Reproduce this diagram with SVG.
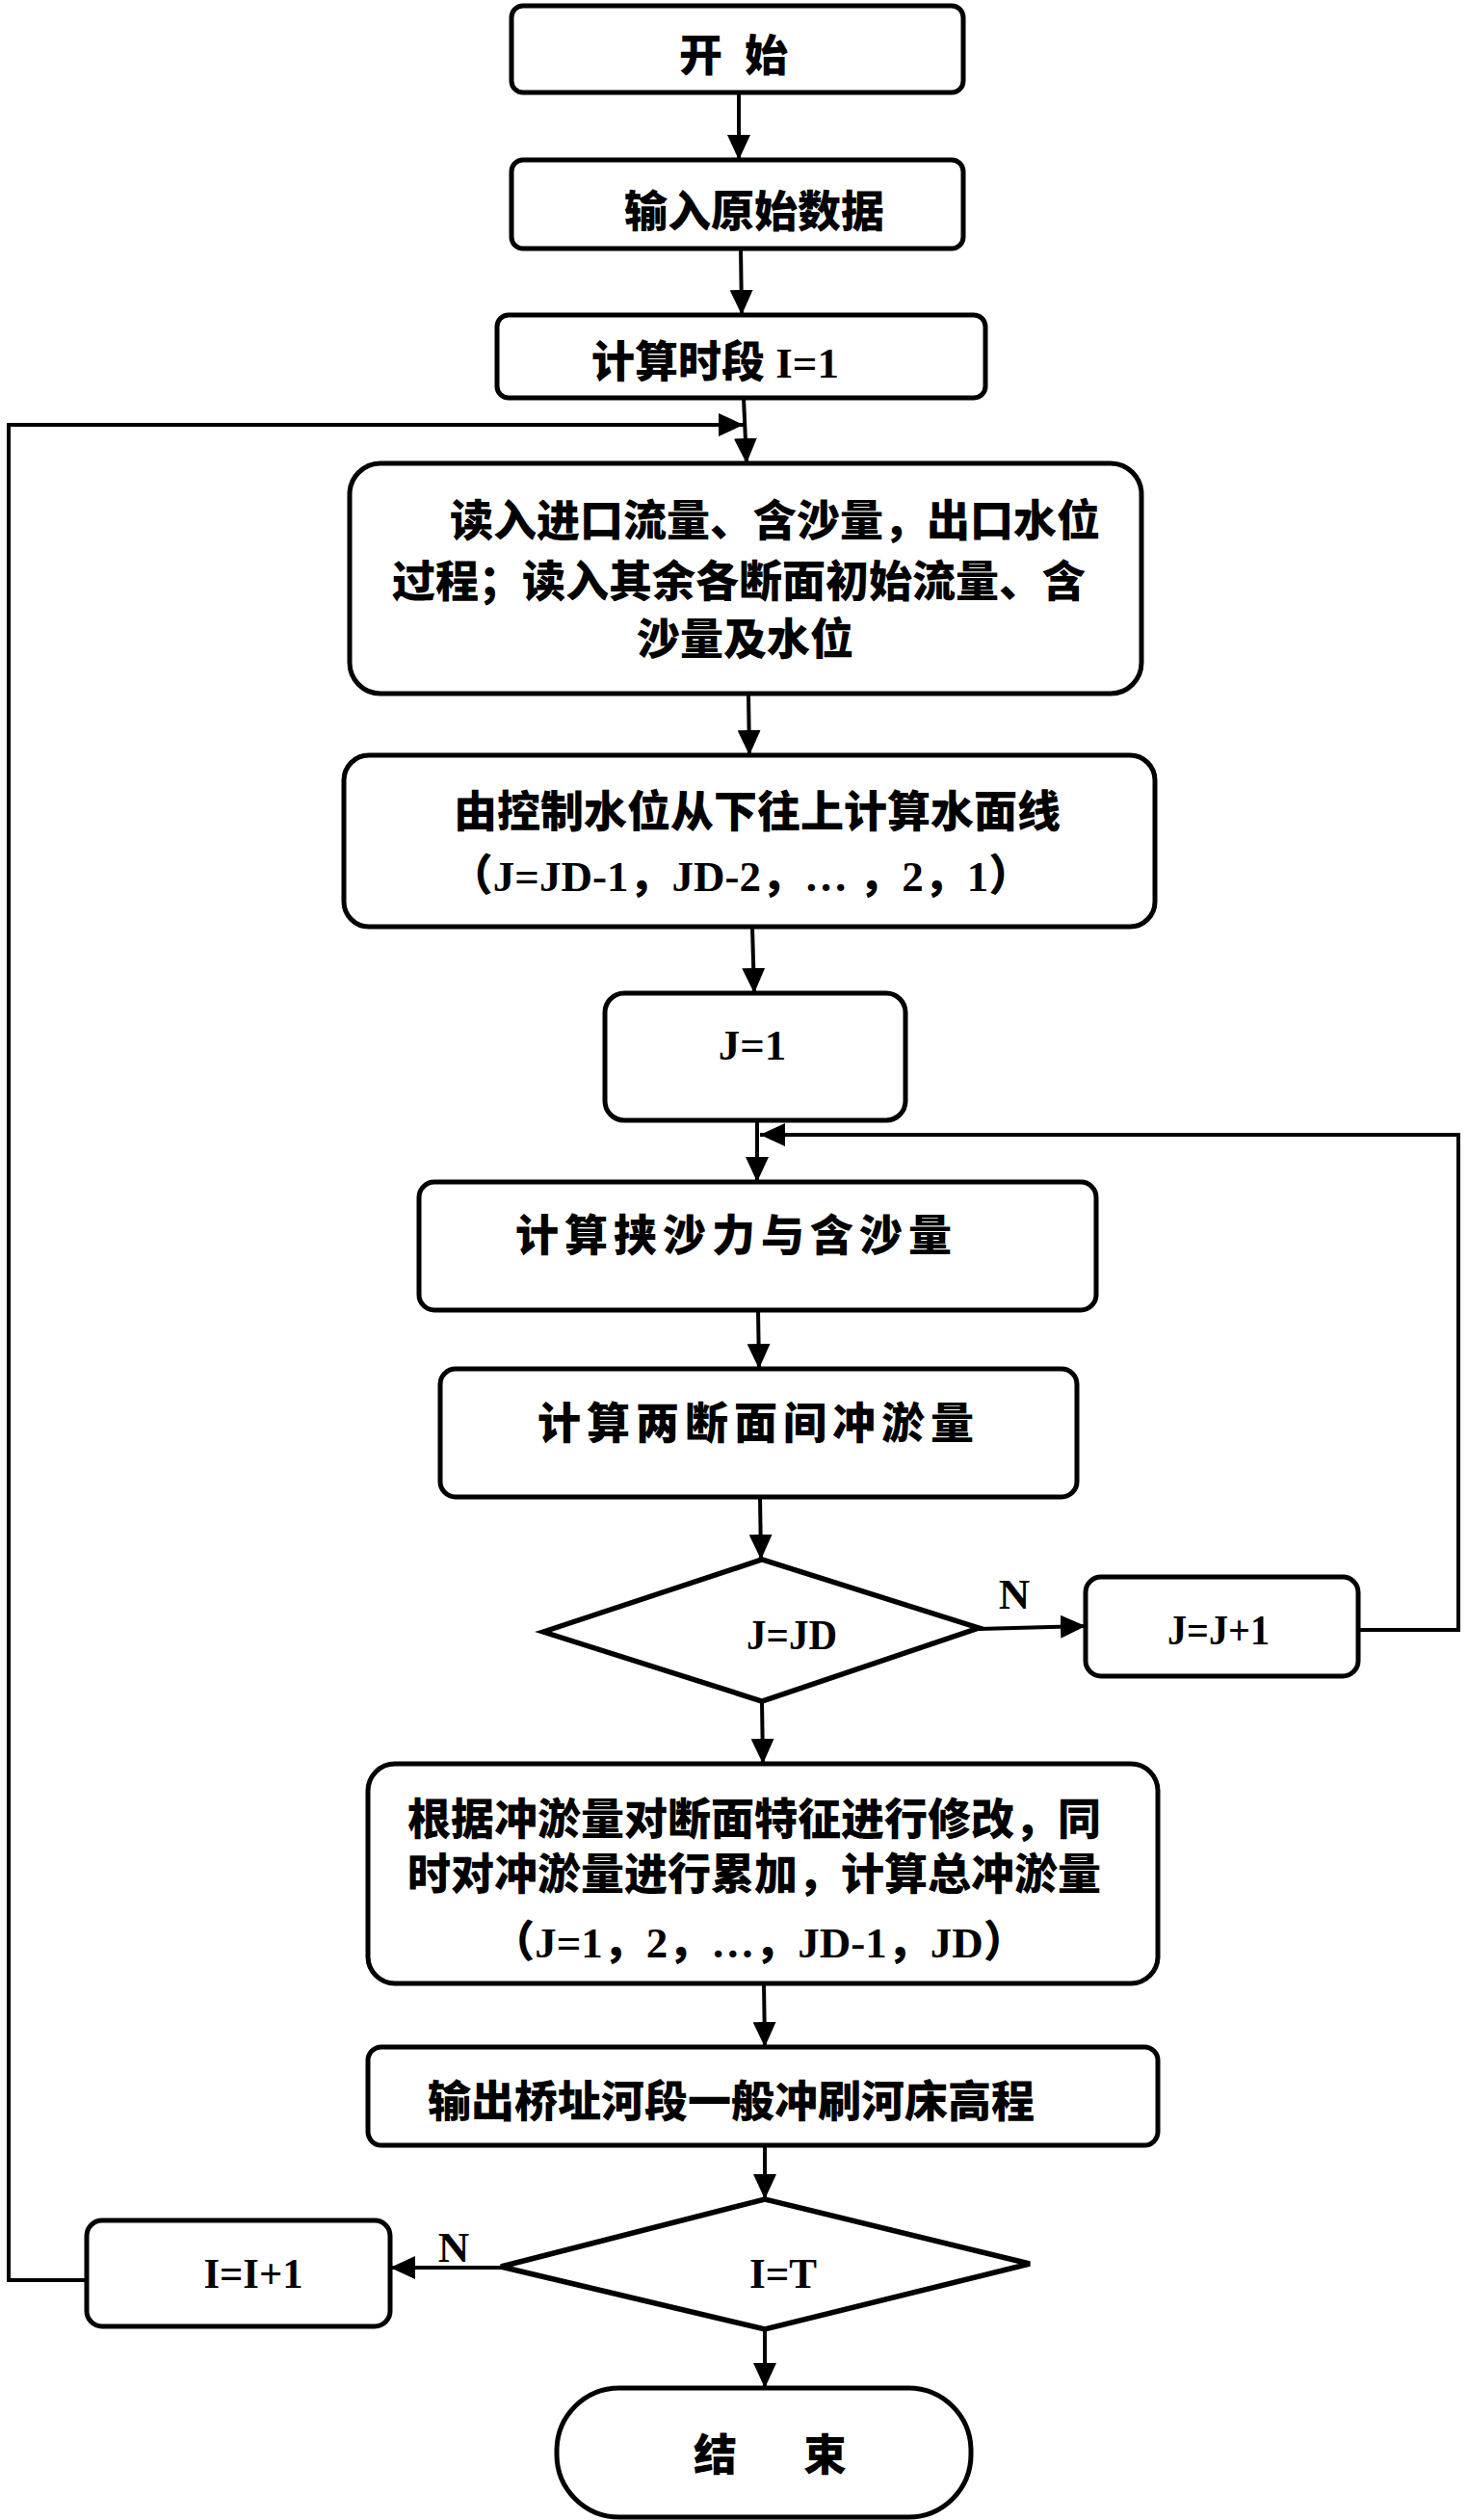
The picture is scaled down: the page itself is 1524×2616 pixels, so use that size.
<svg xmlns="http://www.w3.org/2000/svg" width="1524" height="2616" viewBox="0 0 1524 2616">
<defs>
<marker id="ah" markerUnits="userSpaceOnUse" viewBox="0 0 26 24" refX="26" refY="12" markerWidth="26" markerHeight="24" orient="auto"><path d="M0,0 L26,12 L0,24 z" fill="#000"/></marker>
<style>
.box{fill:#fff;stroke:#000;stroke-width:5}
.dia{fill:#fff;stroke:#000;stroke-width:5.5;stroke-linejoin:miter}
.t{font-family:'Liberation Serif','Noto Sans CJK SC',serif;font-weight:900;font-size:45px;fill:#000}
.c{text-anchor:middle}
.arr{fill:none;stroke:#000;stroke-width:4;marker-end:url(#ah)}
</style>
</defs>
<rect width="1524" height="2616" fill="#fff"/>

<g id="connectors">
<line class="arr" x1="767" y1="96" x2="767" y2="166"/>
<line class="arr" x1="769" y1="258" x2="770" y2="327"/>
<line class="arr" x1="772" y1="413" x2="775" y2="481"/>
<line class="arr" x1="777" y1="720" x2="778" y2="784"/>
<line class="arr" x1="781" y1="962" x2="783" y2="1031"/>
<line class="arr" x1="786" y1="1163" x2="786" y2="1227"/>
<line class="arr" x1="787" y1="1360" x2="788" y2="1421"/>
<line class="arr" x1="789" y1="1554" x2="790" y2="1619"/>
<line class="arr" x1="791" y1="1766" x2="792" y2="1831"/>
<line class="arr" x1="793" y1="2059" x2="794" y2="2125"/>
<line class="arr" x1="794" y1="2227" x2="794" y2="2283"/>
<line class="arr" x1="794" y1="2418" x2="794" y2="2479"/>
<line class="arr" x1="1016" y1="1691" x2="1127" y2="1688"/>
<polyline class="arr" points="1410,1692 1514,1692 1514,1178 789,1178"/>
<line class="arr" x1="520" y1="2354" x2="405" y2="2354"/>
<polyline class="arr" points="90,2367 9,2367 9,441 772,441"/>
</g>

<g id="n-start">
<rect class="box" x="531" y="6" width="469" height="90" rx="12"/>
<text class="t" x="705 750 773" y="74">开 始</text>
</g>
<g id="n-input">
<rect class="box" x="531" y="166" width="469" height="92" rx="12"/>
<text class="t" x="648" y="236">输入原始数据</text>
</g>
<g id="n-period">
<rect class="box" x="516" y="327" width="507" height="86" rx="12"/>
<text class="t" x="614" y="392">计算时段 I=1</text>
</g>
<g id="n-read">
<rect class="box" x="363" y="481" width="822" height="239" rx="32"/>
<text class="t" x="467" y="557">读入进口流量、含沙量，出口水位</text>
<text class="t" x="407" y="620">过程；读入其余各断面初始流量、含</text>
<text class="t" x="661" y="680">沙量及水位</text>
</g>
<g id="n-surface">
<rect class="box" x="357" y="784" width="842" height="178" rx="26"/>
<text class="t c" x="786" y="859">由控制水位从下往上计算水面线</text>
<text class="t c" x="769" y="925">（J=JD-1，JD-2，… ，2，1）</text>
</g>
<g id="n-j1">
<rect class="box" x="628" y="1031" width="312" height="132" rx="20"/>
<text class="t c" x="781" y="1100">J=1</text>
</g>
<g id="n-capacity">
<rect class="box" x="435" y="1227" width="703" height="133" rx="16"/>
<text class="t" x="535" y="1299" letter-spacing="6">计算挟沙力与含沙量</text>
</g>
<g id="n-scour">
<rect class="box" x="457" y="1421" width="661" height="133" rx="16"/>
<text class="t" x="558" y="1494" letter-spacing="6">计算两断面间冲淤量</text>
</g>
<g id="n-jd">
<polygon class="dia" points="564,1694 791,1619 1016,1690 791,1766"/>
<text class="t c" x="822" y="1712" textLength="94" lengthAdjust="spacingAndGlyphs">J=JD</text>
</g>
<g id="n-n1">
<text class="t c" x="1053" y="1670">N</text>
</g>
<g id="n-jinc">
<rect class="box" x="1127" y="1637" width="283" height="103" rx="16"/>
<text class="t c" x="1265" y="1707" textLength="106" lengthAdjust="spacingAndGlyphs">J=J+1</text>
</g>
<g id="n-modify">
<rect class="box" x="382" y="1831" width="820" height="228" rx="28"/>
<text class="t" x="423" y="1905">根据冲淤量对断面特征进行修改，同</text>
<text class="t" x="423" y="1962">时对冲淤量进行累加，计算总冲淤量</text>
<text class="t c" x="788" y="2032">（J=1，2，…，JD-1，JD）</text>
</g>
<g id="n-output">
<rect class="box" x="382" y="2125" width="820" height="102" rx="14"/>
<text class="t" x="444" y="2198">输出桥址河段一般冲刷河床高程</text>
</g>
<g id="n-it">
<polygon class="dia" points="520,2353 794,2283 1069,2350 794,2418"/>
<text class="t c" x="813" y="2375" textLength="70" lengthAdjust="spacingAndGlyphs">I=T</text>
</g>
<g id="n-n2">
<text class="t c" x="471" y="2348">N</text>
</g>
<g id="n-iinc">
<rect class="box" x="90" y="2305" width="315" height="110" rx="16"/>
<text class="t c" x="263" y="2375" textLength="103" lengthAdjust="spacingAndGlyphs">I=I+1</text>
</g>
<g id="n-end">
<rect class="box" x="578" y="2479" width="430" height="134" rx="65"/>
<text class="t" x="720 766 834" y="2565">结 束</text>
</g>
</svg>
